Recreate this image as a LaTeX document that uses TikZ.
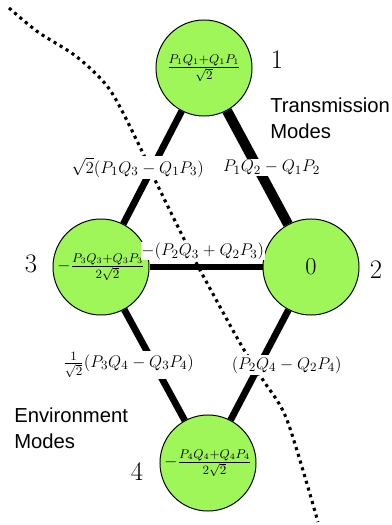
\documentclass[tikz,border=0pt]{standalone}
\usepackage{amsmath}
\usepackage{fontspec}
\setsansfont{Liberation Sans}
\usetikzlibrary{positioning, calc}
\definecolor{cMode}{RGB}{158,246,88}
\tikzset{
	mode/.style     ={circle, draw=black, line width=0.7pt, fill=cMode, minimum size=2.4cm, inner sep=0pt, font=\fontsize{13}{15}\selectfont},
	coupling/.style ={line width=4.8pt},
	strong/.style   ={line width=7.2pt},
	clab/.style     ={fill=white, inner sep=1pt, font=\fontsize{13}{15}\selectfont},
	cut/.style      ={line width=2.2pt, dash pattern=on 2.2pt off 2.8pt},
	idx/.style      ={font=\fontsize{19}{22}\selectfont, inner sep=0pt},
	group/.style    ={font=\sffamily\Large, align=left, anchor=north west, inner sep=0pt},
}

\begin{document}
\begin{tikzpicture}[x=0.025cm, y=-0.025cm]
	\useasboundingbox (0,0) rectangle (392,525);
	% cut between transmission and environment modes
	\draw[cut] plot[smooth, tension=0.5] coordinates {(9,8) (38,32) (77,57) (110,90) (140,147) (155,180) (183,237) (200,270) (240,343) (263,380) (287,420) (318,522)};
	% modes
	\node[mode] (m1) at (204,68) {$\frac{P_1Q_1+Q_1P_1}{\sqrt{2}}$};
	\node[mode] (m3) at (101,267) {$-\frac{P_3Q_3+Q_3P_3}{2\sqrt{2}}$};
	\node[mode, font=\fontsize{19}{22}\selectfont] (m0) at (311,267) {$0$};
	\node[mode] (m4) at (208,463) {$-\frac{P_4Q_4+Q_4P_4}{2\sqrt{2}}$};
	\foreach \n/\pos/\lab in {n1/{(277,60)}/1, n2/{(376,270)}/2, n3/{(31,264)}/3, n4/{(137,472)}/4}
		\node[idx] (\n) at \pos {\lab};
	% couplings
	\draw[coupling] (m1) -- node[clab, xshift=-0.37cm] (c13) {$\sqrt{2}(P_1Q_3-Q_1P_3)$} (m3);
	\draw[strong] (m1) -- node[clab, xshift=0.35cm] (c10) {$P_1Q_2-Q_1P_2$} (m0);
	\draw[coupling] (m3.east) -- node[clab, above=0.08cm, xshift=-0.08cm, inner sep=0.5pt] (c30) {$-(P_2Q_3+Q_2P_3)$} (m0.west);
	\draw[coupling] (m3) -- node[clab, xshift=-0.65cm] (c34) {$\frac{1}{\sqrt{2}}(P_3Q_4-Q_3P_4)$} (m4);
	\draw[coupling] (m0) -- node[clab, xshift=0.68cm] (c04) {$(P_2Q_4-Q_2P_4)$} (m4);
	% groups
	\node[group] (tx) at (270,98) {Transmission\\Modes};
	\node[group] (env) at (14,408) {Environment\\Modes};
\end{tikzpicture}
\end{document}
